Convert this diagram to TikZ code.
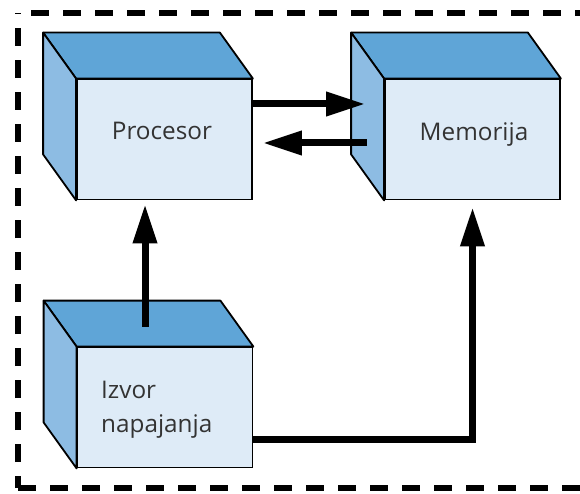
\documentclass[tikz,border=0pt]{standalone}
\usepackage{fontspec}
\setmainfont{Open Sans}
\usetikzlibrary{arrows.meta}
\definecolor{topface}{HTML}{5FA5D7}
\definecolor{sideface}{HTML}{8DBCE3}
\definecolor{frontface}{HTML}{DEEBF7}
\definecolor{txt}{HTML}{333333}
\tikzset{
  front/.style={draw=black, line width=1.8pt, fill=frontface, rectangle,
    minimum width=175pt, minimum height=120pt, inner sep=0pt},
  facetop/.style={draw=black, line width=1.8pt, fill=topface, line join=round},
  faceside/.style={draw=black, line width=1.8pt, fill=sideface, line join=round},
  lbl/.style={text=txt, font=\fontsize{24.3}{28}\selectfont, inner sep=0pt},
  arr/.style={line width=7pt, -{Triangle[length=39pt,width=23pt]}, line join=miter},
  border/.style={line width=6.5pt, dash pattern=on 18pt off 14pt}
}
\newcommand{\cubefaces}[1]{%
  \draw[facetop] (#1.north west) -- ++(-33pt,46pt) -- ([xshift=-33pt,yshift=46pt]#1.north east) -- (#1.north east) -- cycle;
  \draw[faceside] (#1.north west) -- ++(-33pt,46pt) -- ([xshift=-33pt,yshift=46pt]#1.south west) -- (#1.south west) -- cycle;
}
\begin{document}
\begin{tikzpicture}[x=1pt,y=-1pt]
\useasboundingbox (0,0) rectangle (580,494);
\clip (0,0) rectangle (580,494);
\fill[white] (0,0) rectangle (580,494);
% dashed frame
\coordinate (bl) at (18,488);
\coordinate (tl) at (18,13);
\coordinate (tr) at (600,13);
\coordinate (br) at (600,488);
\draw[border, dash phase=6pt] (bl) -- (tl);
\draw[border, dash phase=19pt] (tl) -- (tr);
\draw[border] (bl) -- (br);
% boxes
\node[front] (p) at (164.5,139.5) {};
\cubefaces{p}
\node[front] (m) at (472.5,139.5) {};
\cubefaces{m}
\node[front] (i) at (165,407.5) {};
\cubefaces{i}
% labels
\node[lbl, anchor=base] (pt) at (162,140) {Procesor};
\node[lbl, anchor=base] (mt) at (474,141) {Memorija};
\node[lbl, anchor=base west] (it1) at (101,398) {Izvor};
\node[lbl, anchor=base west] (it2) at (101,432) {napajanja};
% arrows
\draw[arr] ([yshift=35.5pt]p.east) -- ([xshift=-19pt,yshift=35.5pt]m.west);
\draw[arr] ([xshift=-17pt,yshift=-3.5pt]m.west) -- ([xshift=10pt,yshift=-3.5pt]p.east);
\draw[arr] ([xshift=-20pt,yshift=20pt]i.north) -- ([xshift=-19.5pt,yshift=-4pt]p.south);
\draw[arr] ([yshift=-31.5pt]i.east) -| ([yshift=-7pt]m.south);
\end{tikzpicture}
\end{document}
